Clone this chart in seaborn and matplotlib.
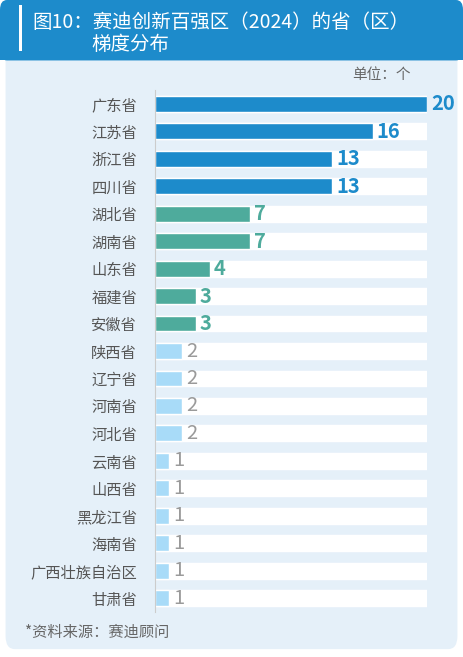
import pandas as pd
import numpy as np
import seaborn as sns
import matplotlib.pyplot as plt
from matplotlib.patches import FancyBboxPatch, Rectangle

"""data"""
provinces = ['广东省', '江苏省', '浙江省', '四川省', '湖北省', '湖南省', '山东省', '福建省', '安徽省',
             '陕西省', '辽宁省', '河南省', '河北省', '云南省', '山西省', '黑龙江省', '海南省',
             '广西壮族自治区', '甘肃省']
counts = [20, 16, 13, 13, 7, 7, 4, 3, 3, 2, 2, 2, 2, 1, 1, 1, 1, 1, 1]
tiers = ['t1'] * 4 + ['t2'] * 5 + ['t3'] * 10

tier_colors = {'t1': '#1d8bcb', 't2': '#4eab9c', 't3': '#a8dbf8'}
label_colors = {'t1': '#1d8bcb', 't2': '#4eab9c', 't3': '#9a9a9a'}

df = pd.DataFrame({'province': provinces, 'count': counts, 'tier': tiers})
df['bg'] = max(counts)

sns.set_theme(style='white')
plt.rcParams['font.family'] = ['Noto Sans CJK SC', 'DejaVu Sans']

fig = plt.figure(figsize=(4.63, 6.57), dpi=100)
fig.patch.set_facecolor('white')

# card background + header
card = FancyBboxPatch((0.012, 0.012), 0.976, 0.976, boxstyle='round,pad=0,rounding_size=0.02',
                      transform=fig.transFigure, facecolor='#e5f0f9', edgecolor='none', zorder=-3)
fig.patches.append(card)
header = FancyBboxPatch((0.0, 0.908), 1.0, 0.092, boxstyle='round,pad=0,rounding_size=0.015',
                        transform=fig.transFigure, facecolor='#1d8bcb', edgecolor='none', zorder=-2)
fig.patches.append(header)
fig.patches.append(Rectangle((0.0, 0.908), 1.0, 0.03, transform=fig.transFigure,
                             facecolor='#1d8bcb', edgecolor='none', zorder=-2))
fig.patches.append(Rectangle((0.04, 0.922), 0.008, 0.07, transform=fig.transFigure,
                             facecolor='white', edgecolor='none', zorder=-1))

fig.text(0.07, 0.966, '图10：赛迪创新百强区（2024）的省（区）', color='white', fontsize=14,
         fontweight='medium', va='center', ha='left')
fig.text(0.197, 0.932, '梯度分布', color='white', fontsize=14, fontweight='medium',
         va='center', ha='left')
fig.text(0.888, 0.886, '单位：个', color='#666666', fontsize=10.5, va='center', ha='right')
fig.text(0.054, 0.037, '*资料来源：赛迪顾问', color='#666666', fontsize=11, va='center', ha='left')

ax = fig.add_axes([0.335, 0.0685, 0.5875, 0.7945])
ax.set_facecolor('none')
ax.set_zorder(2)

sns.barplot(data=df, x='bg', y='province', color='white', width=0.58, ax=ax,
            saturation=1, zorder=1)
sns.barplot(data=df, x='count', y='province', hue='tier', palette=tier_colors, dodge=False,
            width=0.58, ax=ax, saturation=1, legend=False, zorder=2)

for i, (c, t) in enumerate(zip(counts, tiers)):
    weight = 'bold' if t != 't3' else 'normal'
    ax.text(c + 0.3, i, str(c), va='center', ha='left', color=label_colors[t],
            fontsize=14.5, fontweight=weight, zorder=3)

ax.set_xlim(0, 20)
ax.set_ylim(18.5, -0.5)
ax.set_xlabel('')
ax.set_ylabel('')
ax.set_xticks([])
ax.tick_params(axis='y', length=0, pad=13, labelsize=11, labelcolor='#555555')
for s in ['top', 'right', 'bottom']:
    ax.spines[s].set_visible(False)
ax.spines['left'].set_color('#cccccc')
ax.spines['left'].set_linewidth(0.8)

plt.savefig('out.png', dpi=100)
